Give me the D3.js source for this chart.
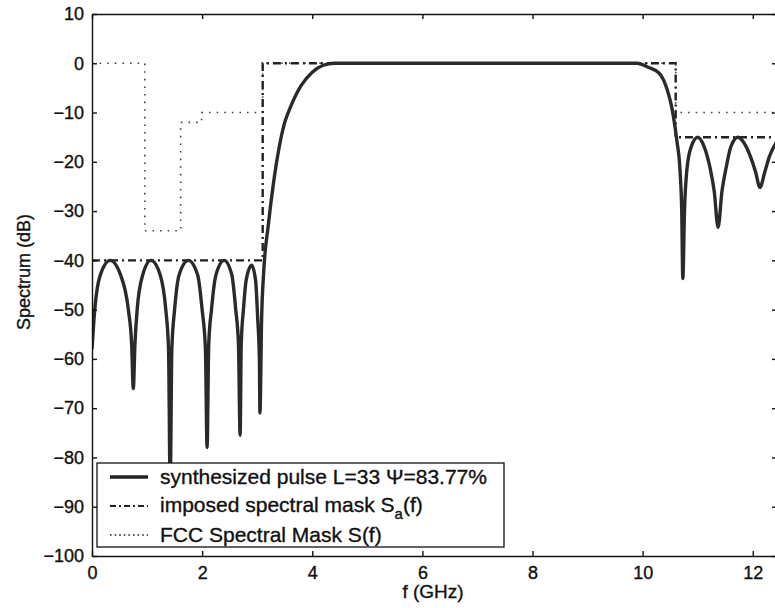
<!DOCTYPE html>
<html lang="en">
<head>
  <meta charset="UTF-8">
  <script src="https://cdn.jsdelivr.net/npm/d3@7"></script>
  <title>Spectrum</title>
  <style>
    body { margin: 0; background: #fff; }
    text { font-family: "Liberation Sans", Arial, sans-serif; fill: #111; stroke: #111; stroke-width: 0.35px; }
  </style>
</head>
<body>
  <svg width="775" height="608"></svg>
<script>
  // synthesized pulse spectrum
  const pulseF = [0, 0.05, 0.15, 0.33, 0.52, 0.66, 0.72, 0.75,
    0.78, 0.82, 0.92, 1.07, 1.24, 1.34, 1.39, 1.42,
    1.45, 1.5, 1.58, 1.75, 1.92, 2.0, 2.06, 2.09,
    2.12, 2.17, 2.25, 2.4, 2.54, 2.61, 2.66, 2.69,
    2.71, 2.75, 2.8, 2.9, 2.97, 3.01, 3.04, 3.05,
    3.08, 3.12, 3.2, 3.3, 3.4, 3.5, 3.6, 3.7, 3.8, 4.0, 4.2, 4.4, 9.9,
    10.1, 10.3, 10.45, 10.53, 10.62, 10.68, 10.71, 10.73,
    10.76, 10.8, 10.88, 11.0, 11.12, 11.22, 11.3, 11.37,
    11.44, 11.52, 11.6, 11.73, 11.86, 11.96, 12.05, 12.13,
    12.22, 12.3, 12.44];
  const pulseDb = [-58, -50, -43, -40, -43, -50, -57, -66,
    -57, -50, -43, -40, -43, -50, -58, -86,
    -58, -50, -43, -40, -43, -50, -58, -78,
    -57, -50, -43, -40, -43, -50, -57, -75.5,
    -57, -50, -44, -41, -44, -52, -60, -71,
    -52, -42, -33, -24, -17, -12, -9, -6.5, -4.5, -1.8, -0.4, 0, 0,
    -0.8, -2, -5.5, -9, -15.6, -22, -30, -43.7,
    -30, -22, -17, -15, -17, -21, -26, -33.3,
    -26, -21, -17, -15, -16.5, -19, -22, -25.2,
    -22, -19, -15.8];

  // imposed spectral mask Sa(f)
  const maskF = [0, 3.1, 3.1, 10.6, 10.6, 12.44];
  const maskDb = [-40, -40, 0, 0, -15, -15];

  // FCC spectral mask S(f)
  const fccF = [0, 0.96, 0.96, 1.61, 1.61, 1.99, 1.99, 3.1, 3.1, 10.6, 10.6, 12.44];
  const fccDb = [0, 0, -34, -34, -12, -12, -10, -10, 0, 0, -10, -10];

  const xTicks = [0, 2, 4, 6, 8, 10, 12];
  const yTicks = [10, 0, -10, -20, -30, -40, -50, -60, -70, -80, -90, -100];

  const svg = d3.select("svg");
  const pLeft = 92, pRight = 777, pTop = 14, pBottom = 556;

  const x = d3.scaleLinear().domain([0, 12.44]).range([pLeft, pRight]);
  const y = d3.scaleLinear().domain([-100, 10]).range([pBottom, pTop]);

  svg.append("defs").append("clipPath").attr("id", "clip")
    .append("rect")
    .attr("x", pLeft).attr("y", pTop)
    .attr("width", pRight - pLeft).attr("height", pBottom - pTop);

  const zip = (fs, vs) => fs.map((f, i) => [f, vs[i]]);
  const line = d3.line().x(d => x(d[0])).y(d => y(d[1]));
  const smooth = d3.line().x(d => x(d[0])).y(d => y(d[1])).curve(d3.curveMonotoneX);

  const plot = svg.append("g").attr("clip-path", "url(#clip)");

  // FCC mask, dotted
  plot.append("path")
    .attr("d", line(zip(fccF, fccDb)))
    .attr("fill", "none")
    .attr("stroke", "#444")
    .attr("stroke-width", 1.6)
    .attr("stroke-dasharray", "1.6,6");

  // imposed mask, dash-dot
  plot.append("path")
    .attr("d", line(zip(maskF, maskDb)))
    .attr("fill", "none")
    .attr("stroke", "#222")
    .attr("stroke-width", 2.4)
    .attr("stroke-dasharray", "8,4,2,4");

  // pulse spectrum, solid
  plot.append("path")
    .attr("d", smooth(zip(pulseF, pulseDb)))
    .attr("fill", "none")
    .attr("stroke", "#2a2a2a")
    .attr("stroke-width", 3.4)
    .attr("stroke-linejoin", "round");

  // axes: ticks inside on all four sides
  const axisStyle = g => {
    g.select(".domain").attr("stroke", "#111").attr("stroke-width", 1.4);
    g.selectAll(".tick line").attr("stroke", "#111").attr("stroke-width", 1.4);
    g.selectAll(".tick text").style("font-size", "18px").attr("fill", "#111");
  };

  svg.append("g")
    .attr("transform", `translate(0,${pBottom})`)
    .call(d3.axisBottom(x).tickValues(xTicks).tickSizeInner(-5).tickSizeOuter(0).tickPadding(10))
    .call(axisStyle);

  svg.append("g")
    .attr("transform", `translate(0,${pTop})`)
    .call(d3.axisTop(x).tickValues(xTicks).tickSizeInner(-5).tickSizeOuter(0).tickFormat(""))
    .call(axisStyle);

  svg.append("g")
    .attr("transform", `translate(${pLeft},0)`)
    .call(d3.axisLeft(y).tickValues(yTicks).tickSizeInner(-5).tickSizeOuter(0).tickPadding(8)
      .tickFormat(d => d < 0 ? "\u2212" + Math.abs(d) : d))
    .call(axisStyle);

  svg.append("g")
    .attr("transform", `translate(${pRight},0)`)
    .call(d3.axisRight(y).tickValues(yTicks).tickSizeInner(-5).tickSizeOuter(0).tickFormat(""))
    .call(axisStyle);

  // axis titles
  svg.append("text")
    .attr("x", 433)
    .attr("y", 598)
    .attr("text-anchor", "middle")
    .style("font-size", "19px")
    .text("f (GHz)");

  svg.append("text")
    .attr("transform", "translate(30,272) rotate(-90)")
    .attr("text-anchor", "middle")
    .style("font-size", "18px")
    .text("Spectrum (dB)");

  // legend
  const legend = svg.append("g");
  legend.append("rect")
    .attr("x", 97).attr("y", 463)
    .attr("width", 407).attr("height", 84)
    .attr("fill", "#fff")
    .attr("stroke", "#111")
    .attr("stroke-width", 1.3);

  const legendRows = [
    { y: 477, width: 3.4, dash: null },
    { y: 506, width: 2.2, dash: "6,3,2,3" },
    { y: 535, width: 1.6, dash: "1.6,3" }
  ];
  legend.selectAll(".sample")
    .data(legendRows)
    .join("line")
    .attr("class", "sample")
    .attr("x1", 110).attr("x2", 148)
    .attr("y1", d => d.y).attr("y2", d => d.y)
    .attr("stroke", "#222")
    .attr("stroke-width", d => d.width)
    .attr("stroke-dasharray", d => d.dash);

  legend.append("text").attr("x", 160).attr("y", 484).style("font-size", "21px")
    .text("synthesized pulse L=33 \u03A8=83.77%");
  const t2 = legend.append("text").attr("x", 160).attr("y", 512).style("font-size", "21px");
  t2.append("tspan").text("imposed spectral mask S");
  t2.append("tspan").attr("dy", 7).style("font-size", "15px").text("a");
  t2.append("tspan").attr("dy", -7).text("(f)");
  legend.append("text").attr("x", 160).attr("y", 542).style("font-size", "21px")
    .text("FCC Spectral Mask S(f)");
</script>
</body>
</html>
